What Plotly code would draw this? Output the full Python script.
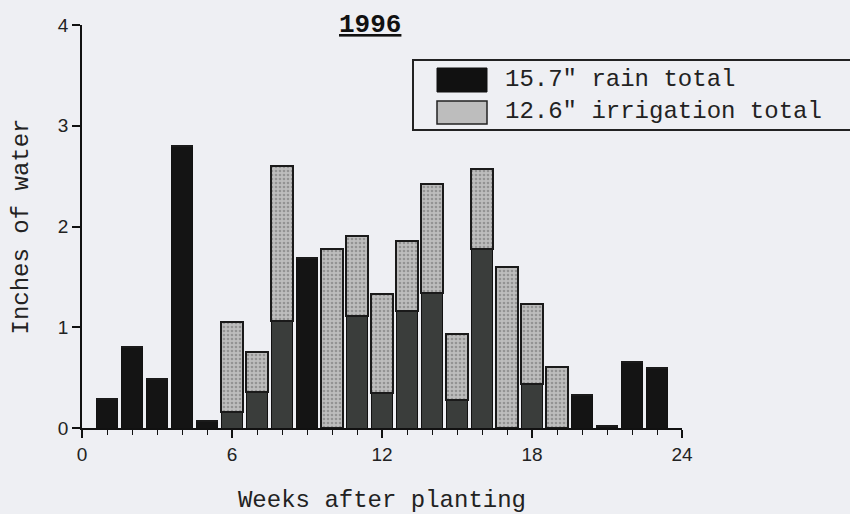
import plotly.graph_objects as go

weeks = list(range(1, 24))
rain = [0.29, 0.80, 0.49, 2.80, 0.07, 0.16, 0.36, 1.06, 1.69, 0.00, 1.11, 0.35,
        1.16, 1.34, 0.28, 1.78, 0.00, 0.44, 0.00, 0.33, 0.02, 0.66, 0.60]
irrigation = [0, 0, 0, 0, 0, 0.89, 0.39, 1.54, 0, 1.78, 0.80, 0.98,
              0.70, 1.08, 0.65, 0.79, 1.60, 0.79, 0.61, 0, 0, 0, 0]
rain_label = '15.7" rain total'
irr_label = '12.6" irrigation total'
title_text = "1996"
x_ticks = [0, 6, 12, 18, 24]
y_ticks = [0, 1, 2, 3, 4]

mono = "Liberation Mono"
sans = "Liberation Sans"
BG = "#eeeff3"

# rain within stacked bars looks a bit lighter in the scan
rain_colors = ["#3a3d3b" if i > 0 else "#141414" for i in irrigation]

fig = go.Figure()
fig.add_trace(go.Bar(
    x=weeks, y=rain, name=rain_label, width=0.86,
    marker=dict(color=rain_colors, line=dict(color="#111", width=1)),
    showlegend=False,
))
fig.add_trace(go.Bar(
    x=weeks, y=irrigation, name=irr_label, width=0.86,
    marker=dict(color="#bdbdbd", line=dict(color="#1a1a1a", width=2),
                pattern=dict(shape=".", fgcolor="#6a6a6a", size=4, solidity=0.35)),
    showlegend=False,
))

fig.update_layout(
    barmode="stack",
    width=850, height=514,
    margin=dict(l=82, r=168, t=25, b=86),
    paper_bgcolor=BG,
    plot_bgcolor="rgba(0,0,0,0)",
    xaxis=dict(
        range=[0, 24], tickvals=x_ticks, ticktext=[str(v) for v in x_ticks],
        automargin=False,
        showgrid=False, zeroline=False, showline=True, linecolor="#111", linewidth=1.5,
        ticks="outside", ticklen=8, tickcolor="#111", tickwidth=1.5,
        minor=dict(dtick=1, ticks="outside", ticklen=5, tickcolor="#111", tickwidth=1.2),
        tickfont=dict(family=sans, size=19, color="#222"),
        title=dict(text="Weeks after planting", font=dict(family=mono, size=24, color="#222"), standoff=37),
    ),
    yaxis=dict(
        range=[0, 4], tickvals=y_ticks,
        automargin=False,
        showgrid=False, zeroline=False, showline=True, linecolor="#111", linewidth=1.5,
        ticks="outside", ticklen=8, tickcolor="#111", tickwidth=1.5,
        tickfont=dict(family=sans, size=19, color="#222"),
        title=dict(text="Inches of water", font=dict(family=mono, size=24, color="#222"), standoff=22),
    ),
)


def px_x(px):
    return (px - 82) / 600.0


def px_y(py):
    return (428 - py) / 403.0


# title
fig.add_annotation(xref="paper", yref="paper", x=px_x(370), y=px_y(25), yanchor="middle",
                   text="<b><u>" + title_text + "</u></b>", showarrow=False,
                   font=dict(family=mono, size=26, color="#111"))

# custom legend box (paper coords)
fig.add_shape(type="rect", xref="paper", yref="paper",
              x0=px_x(413), x1=px_x(851), y0=px_y(130), y1=px_y(60),
              line=dict(color="#222", width=2), fillcolor=BG)
fig.add_shape(type="rect", xref="paper", yref="paper",
              x0=px_x(437), x1=px_x(487), y0=px_y(92), y1=px_y(68),
              line=dict(color="#111", width=1), fillcolor="#111")
fig.add_shape(type="rect", xref="paper", yref="paper",
              x0=px_x(437), x1=px_x(487), y0=px_y(124), y1=px_y(101),
              line=dict(color="#222", width=1.5), fillcolor="#bdbdbd")
fig.add_annotation(xref="paper", yref="paper", x=px_x(503), y=px_y(79), xanchor="left", yanchor="middle",
                   text=rain_label, showarrow=False, font=dict(family=mono, size=24, color="#222"))
fig.add_annotation(xref="paper", yref="paper", x=px_x(503), y=px_y(111), xanchor="left", yanchor="middle",
                   text=irr_label, showarrow=False, font=dict(family=mono, size=24, color="#222"))

fig.write_html("out.html", config={"displayModeBar": False},
               post_script="document.body.style.margin='0';document.body.style.overflow='hidden';"
                           "document.body.style.background='" + BG + "';")
